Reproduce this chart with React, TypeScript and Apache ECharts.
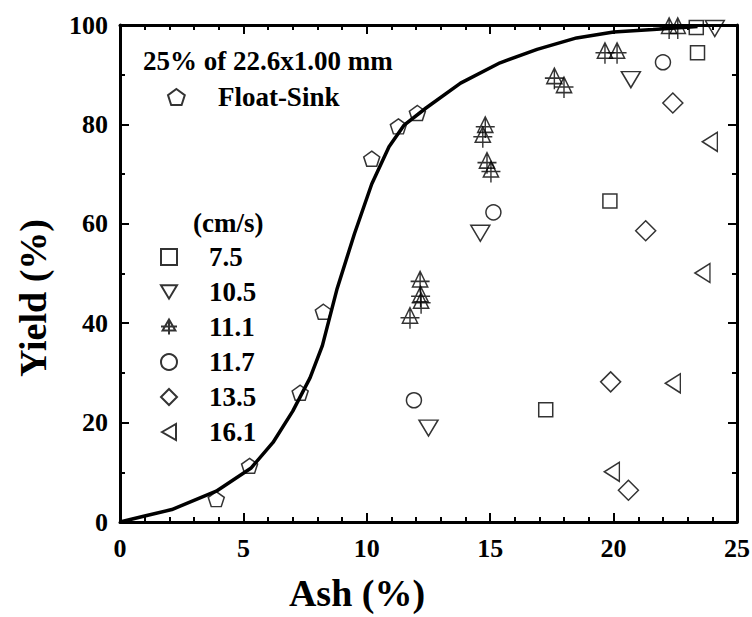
import React, { useEffect, useRef } from "react";
import * as echarts from "echarts";

const FONT = "'Liberation Serif', 'Times New Roman', serif";

// Fitted curve (Ash %, Yield %)
const curveAsh = [0, 1, 2.1, 3.9, 5.3, 6.2, 7.0, 7.7, 8.2, 8.8, 9.5, 10.2, 10.9, 11.5, 12.4, 13.8, 15.4, 16.9, 18.5, 20.0, 21.6, 23.4];
const curveYield = [0, 1.2, 2.5, 6.2, 10.8, 16.0, 22.3, 29.0, 35.5, 47.0, 58.0, 68.0, 75.5, 79.8, 83.3, 88.3, 92.4, 95.1, 97.4, 98.6, 99.1, 99.7];

// Float-Sink
const fsAsh = [3.9, 5.25, 7.3, 8.24, 10.2, 11.28, 12.05];
const fsYield = [4.6, 11.3, 26.0, 42.3, 73.1, 79.6, 82.3];

// Velocities (cm/s)
const v75Ash = [17.25, 19.85, 23.4, 23.35];
const v75Yield = [22.6, 64.6, 94.4, 99.5];

const v105Ash = [12.5, 14.6, 20.7, 24.1];
const v105Yield = [18.9, 58.1, 89.0, 99.3];

const v111Ash = [11.75, 12.16, 12.18, 12.2, 14.7, 14.8, 14.87, 15.03, 17.6, 17.99, 19.65, 20.14, 22.25, 22.6];
const v111Yield = [41.0, 48.3, 45.3, 44.0, 77.4, 79.4, 72.2, 70.4, 89.2, 87.4, 94.3, 94.3, 99.3, 99.3];

const v117Ash = [11.91, 15.13, 22.0];
const v117Yield = [24.5, 62.3, 92.5];

const v135Ash = [20.6, 19.88, 21.3, 22.4];
const v135Yield = [6.4, 28.2, 58.6, 84.3];

const v161Ash = [19.93, 22.4, 23.6, 23.9];
const v161Yield = [10.1, 27.9, 50.1, 76.5];

const speedNames = ["7.5", "10.5", "11.1", "11.7", "13.5", "16.1"];

const xTicks = { min: 0, max: 25, interval: 5 };
const yTicks = { min: 0, max: 100, interval: 20 };

const zip = (a: number[], b: number[]) => a.map((v, i) => [v, b[i]]);

const PENTAGON = "path://M10,0 L19.5,6.9 L15.9,18.1 L4.1,18.1 L0.5,6.9 Z";
const TRI_DOWN = "path://M0,0 L18,0 L9,15 Z";
const TRI_LEFT = "path://M0,8 L14,0 L14,16 Z";
const TRI_CROSS = "path://M10,0 L2,14 L18,14 Z M0,9 L20,9 M10,0 L10,19";

export default function App() {
  const ref = useRef<HTMLDivElement>(null);
  useEffect(() => {
    document.body.style.margin = "0";
    if (!ref.current) return;
    const chart = echarts.init(ref.current, undefined, { renderer: "svg" });
    const itemStyle = { color: "rgba(0,0,0,0)", borderColor: "#000", borderWidth: 1.5 };
    const scatter = (name: string, a: number[], b: number[], symbol: string, size: any) => ({
      name,
      type: "scatter",
      data: zip(a, b),
      symbol,
      symbolSize: size,
      itemStyle,
      z: 3,
    });
    const axisCommon = {
      type: "value",
      axisLine: { show: true, onZero: false, lineStyle: { color: "#000", width: 3 } },
      axisTick: { show: true, inside: true, length: 9, lineStyle: { color: "#000", width: 2 } },
      minorTick: { show: true, length: 5, lineStyle: { color: "#000", width: 2 } },
      splitLine: { show: false },
    };
    const labelStyle = { fontFamily: FONT, fontWeight: "bold", fontSize: 26, color: "#000" };
    const legendText = { fontFamily: FONT, fontWeight: "bold", fontSize: 27, color: "#000", lineHeight: 30 };
    chart.setOption({
      animation: false,
      backgroundColor: "#fff",
      grid: { left: 120, right: 15, top: 25, bottom: 95, outerBoundsMode: "none" },
      xAxis: [
        { ...axisCommon, ...xTicks, position: "bottom", minorTick: { ...axisCommon.minorTick, splitNumber: 5 },
          axisLabel: { ...labelStyle, margin: 13 } },
        { ...axisCommon, ...xTicks, position: "top", minorTick: { ...axisCommon.minorTick, splitNumber: 5 },
          axisLabel: { show: false } },
      ],
      yAxis: [
        { ...axisCommon, ...yTicks, position: "left", minorTick: { ...axisCommon.minorTick, splitNumber: 2 },
          axisLabel: { ...labelStyle, margin: 12 } },
        { ...axisCommon, ...yTicks, position: "right", minorTick: { ...axisCommon.minorTick, splitNumber: 2 },
          axisLabel: { show: false } },
      ],
      legend: [
        {
          data: ["Float-Sink"], orient: "vertical", left: 167, top: 82, padding: 0,
          itemWidth: 17, itemHeight: 16, selectedMode: false,
          textStyle: { ...legendText, padding: [0, 0, 0, 28] },
        },
        {
          data: speedNames, orient: "vertical", left: 160, top: 242, padding: 0, itemGap: 5,
          itemWidth: 16, itemHeight: 16, selectedMode: false,
          textStyle: { ...legendText, padding: [0, 0, 0, 27] },
        },
      ],
      graphic: [
        { type: "text", x: 143, y: 61, style: { text: "25% of 22.6x1.00 mm", font: `bold 27px ${FONT}`, fill: "#000", textVerticalAlign: "middle" } },
        { type: "text", x: 193, y: 223, style: { text: "(cm/s)", font: `bold 27px ${FONT}`, fill: "#000", textVerticalAlign: "middle" } },
        { type: "text", x: 357, y: 593, style: { text: "Ash (%)", font: `bold 38px ${FONT}`, fill: "#000", textAlign: "center", textVerticalAlign: "middle" } },
        { type: "text", x: 33, y: 298, rotation: Math.PI / 2, style: { text: "Yield (%)", font: `bold 38px ${FONT}`, fill: "#000", textAlign: "center", textVerticalAlign: "middle" } },
      ],
      series: [
        {
          name: "curve", type: "line", data: zip(curveAsh, curveYield), showSymbol: false, symbol: "none",
          lineStyle: { color: "#000", width: 3.5 }, z: 2,
        },
        scatter("Float-Sink", fsAsh, fsYield, PENTAGON, [16, 15]),
        scatter("7.5", v75Ash, v75Yield, "rect", [14, 14]),
        scatter("10.5", v105Ash, v105Yield, TRI_DOWN, [19, 16]),
        scatter("11.1", v111Ash, v111Yield, TRI_CROSS, [19, 21]),
        scatter("11.7", v117Ash, v117Yield, "circle", [15, 15]),
        scatter("13.5", v135Ash, v135Yield, "diamond", [20, 20]),
        scatter("16.1", v161Ash, v161Yield, TRI_LEFT, [15, 19]),
      ],
    });
    return () => chart.dispose();
  }, []);
  return <div ref={ref} style={{ width: 752, height: 617 }} />;
}
